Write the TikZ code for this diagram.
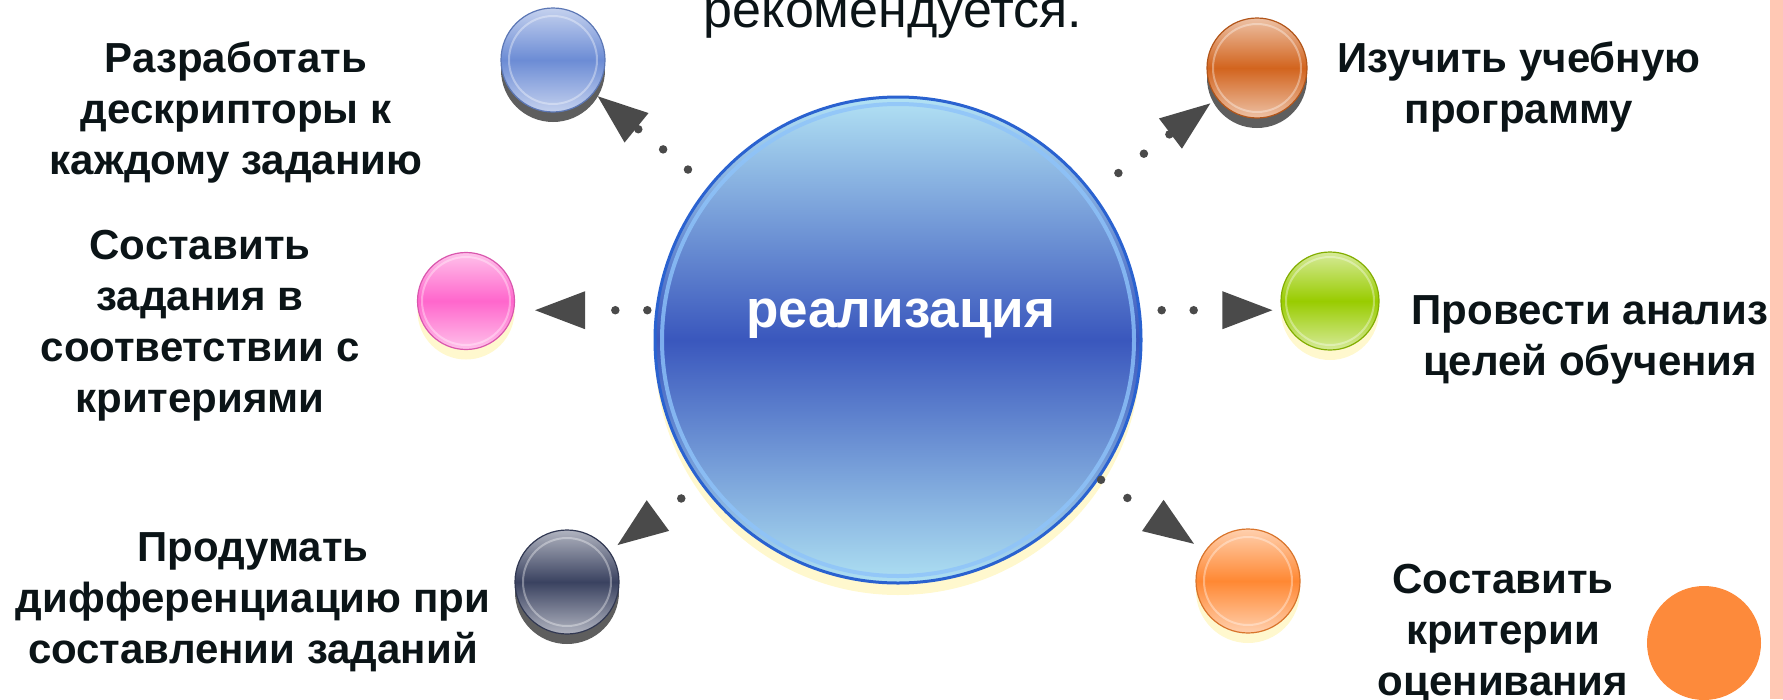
\documentclass[tikz,border=0pt]{standalone}
\usepackage{fontspec}
\setmainfont{Liberation Sans}
\usetikzlibrary{arrows.meta,shadows}

\definecolor{inkdark}{HTML}{0B1417}
\definecolor{linkgray}{HTML}{4A4A4A}
\definecolor{rimgray}{HTML}{5E5E5E}
\definecolor{rimyellow}{HTML}{FFF8CE}
\definecolor{balblue}{HTML}{6C8CD5}
\definecolor{balpink}{HTML}{FF66CC}
\definecolor{balslate}{HTML}{3A4260}
\definecolor{balrust}{HTML}{D2641E}
\definecolor{balgreen}{HTML}{99CC00}
\definecolor{balorange}{HTML}{FF8833}
\definecolor{discorange}{HTML}{FD8A3B}
\definecolor{stripsalmon}{HTML}{FFC8B4}
\definecolor{coretop}{HTML}{B2E2F4}
\definecolor{coremid}{HTML}{3A57BD}
\definecolor{corebot}{HTML}{AEE0F2}
\definecolor{coreline}{HTML}{2A62D0}
\definecolor{corering}{HTML}{8EC3FA}

\tikzset{
	ball/.style={circle, inner sep=0pt, minimum size=102pt, draw=#1!85!black, line width=1.2pt,
		top color=#1!40!white, bottom color=#1!40!white, middle color=#1,
		path picture={\draw[white, opacity=.35, line width=2pt] (path picture bounding box.center) circle (44);}},
	grayrim/.style={general shadow={shadow yshift=-10pt, fill=rimgray}},
	yellowrim/.style={general shadow={shadow yshift=-#1, fill=rimyellow}},
	yellowrim/.default=10pt,
	tag/.style={align=center, anchor=base, inner sep=0pt, text=inkdark, font=\bfseries\fontsize{42}{51}\selectfont},
	dotlink/.style={draw=linkgray, line width=8.5pt, line cap=round, dash pattern=on 0pt off 32pt,
		-{Triangle[length=50pt, width=38pt, line width=0pt]}}
}

\begin{document}
\begin{tikzpicture}[x=1pt, y=-1pt]
		%%%%% START %%%%%
		\useasboundingbox (0, 0) rectangle (1783, 699);
		\clip (0, 0) rectangle (1783, 699);
		
		\fill[stripsalmon] (1770, 0) rectangle (1783, 699);
		\fill[discorange] (1704, 643) circle (57);
		
		\node[anchor=base, inner sep=0pt, text=inkdark, font=\fontsize{52}{60}\selectfont] (advice) at (893, 27) {рекомендуется.};
		
		\node[circle, inner sep=0pt, minimum size=486pt, draw=coreline, line width=3pt, yellowrim=12pt,
			top color=coretop, bottom color=corebot, middle color=coremid,
			path picture={\draw[corering, opacity=.8, line width=4pt] (path picture bounding box.center) circle (236);}] (core) at (898, 340) {};
		\node[anchor=base, inner sep=0pt, text=white, font=\bfseries\fontsize{53}{60}\selectfont] (corename) at (901, 327) {реализация};
		
		\node[ball=balblue, grayrim, minimum size=104pt] (tlball) at (553, 60) {};
		\node[ball=balpink, yellowrim, minimum size=97pt] (mlball) at (466, 301) {};
		\node[ball=balslate, grayrim, minimum size=104pt] (blball) at (567, 582) {};
		\node[ball=balrust, grayrim, minimum size=100pt] (trball) at (1257, 68) {};
		\node[ball=balgreen, yellowrim, minimum size=98pt] (mrball) at (1330, 301) {};
		\node[ball=balorange, yellowrim, minimum size=104pt] (brball) at (1248, 581) {};
		
		% baselines given for the last line of each block
		\node[tag] (tltext) at (236, 174) {Разработать\\дескрипторы к\\каждому заданию};
		\node[tag] (mltext) at (200, 412) {Составить\\задания в\\соответствии с\\критериями};
		\node[tag] (bltext) at (253, 663) {Продумать\\дифференциацию при\\составлении заданий};
		\node[tag] (trtext) at (1519, 123) {Изучить учебную\\программу};
		\node[tag] (mrtext) at (1590, 375) {Провести анализ\\целей обучения};
		\node[tag] (brtext) at (1503, 695) {Составить\\критерии\\оценивания};
		
		\draw[dotlink, shorten <=26pt, shorten >=5pt] (core) -- (tlball);
		\draw[dotlink, shorten <=8pt, shorten >=20pt] (core.173) -- (core.173 -| mlball.east);
		\draw[dotlink, shorten <=24pt, shorten >=10pt] (core) -- (blball);
		\draw[dotlink, shorten <=32pt, shorten >=8pt] (core) -- (trball);
		\draw[dotlink, shorten <=21pt, shorten >=8pt] (core.7) -- (core.7 -| mrball.west);
		\draw[dotlink, shorten <=2pt, shorten >=13pt] (core) -- (brball);
		
		%%%%% END %%%%%
\end{tikzpicture}
\end{document}
